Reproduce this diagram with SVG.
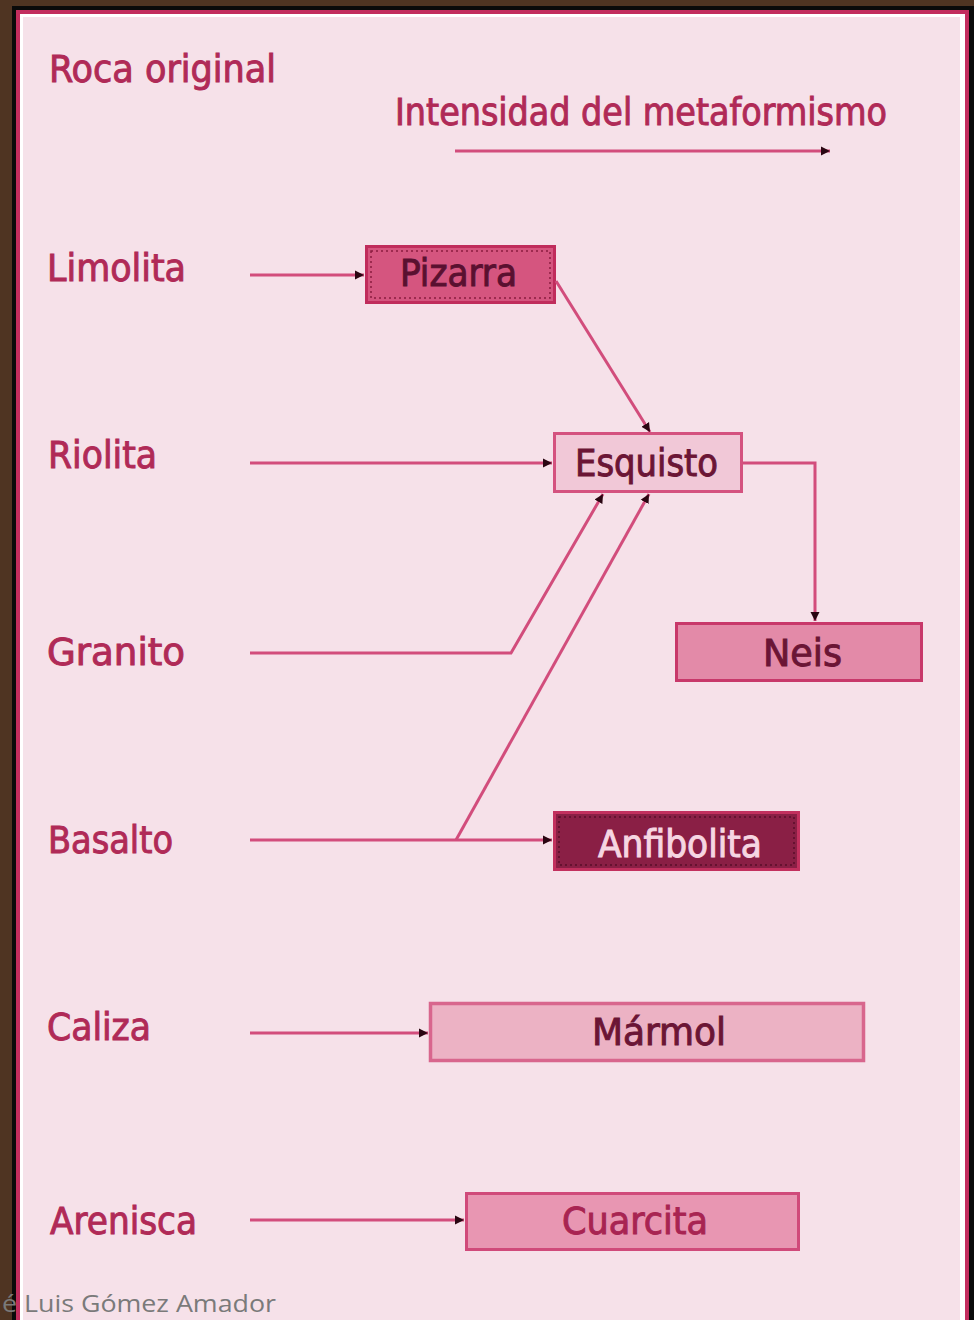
<svg xmlns="http://www.w3.org/2000/svg" width="974" height="1320" viewBox="0 0 974 1320">
  <style>
    .lbl { font-family: "DejaVu Sans Condensed", "DejaVu Sans", "Liberation Sans", sans-serif; font-stretch: condensed; font-size: 37px; fill: #b02a57; stroke: #b02a57; stroke-width: 0.9; }
    .box-text { font-family: "DejaVu Sans Condensed", "DejaVu Sans", "Liberation Sans", sans-serif; font-stretch: condensed; font-size: 37px; stroke-width: 0.9; }
    .conn { fill: none; stroke: #d24d7c; stroke-width: 3; marker-end: url(#tip); }
    .dots { fill: none; stroke-width: 1.5; stroke-dasharray: 2 3; }
  </style>
  <defs>
    <marker id="tip" markerUnits="userSpaceOnUse" markerWidth="10" markerHeight="10" refX="9" refY="5" orient="auto">
      <path d="M0,0.5 L9,5 L0,9.5 z" fill="#2a0612"/>
    </marker>
  </defs>

  <!-- outer frame -->
  <rect x="0" y="0" width="974" height="1320" fill="#4f3422"/>
  <rect x="12" y="6" width="962" height="1320" fill="#0a0a0a"/>
  <rect x="16" y="10" width="953" height="1316" fill="#c22d5e"/>
  <rect x="20" y="14" width="945" height="1312" fill="#ffffff"/>
  <rect x="23" y="17" width="937" height="1309" fill="#f6e1e9"/>

  <!-- headings -->
  <text class="lbl" x="49" y="82" textLength="227" lengthAdjust="spacingAndGlyphs">Roca original</text>
  <text class="lbl" x="395" y="125" font-size="39" textLength="492" lengthAdjust="spacingAndGlyphs">Intensidad del metaformismo</text>

  <!-- source rocks -->
  <g id="limolita"><text class="lbl" x="47" y="281" textLength="139" lengthAdjust="spacingAndGlyphs">Limolita</text></g>
  <g id="riolita"><text class="lbl" x="48" y="468" textLength="109" lengthAdjust="spacingAndGlyphs">Riolita</text></g>
  <g id="granito"><text class="lbl" x="47" y="665" textLength="138" lengthAdjust="spacingAndGlyphs">Granito</text></g>
  <g id="basalto"><text class="lbl" x="48" y="853" textLength="125" lengthAdjust="spacingAndGlyphs">Basalto</text></g>
  <g id="caliza"><text class="lbl" x="47" y="1040" textLength="104" lengthAdjust="spacingAndGlyphs">Caliza</text></g>
  <g id="arenisca"><text class="lbl" x="50" y="1234" textLength="147" lengthAdjust="spacingAndGlyphs">Arenisca</text></g>

  <!-- metamorphic rocks -->
  <g id="pizarra">
    <rect x="366.5" y="246.5" width="188" height="56" fill="#d5557f" stroke="#c02c5c" stroke-width="3"/>
    <rect x="371" y="251" width="179" height="47" class="dots" stroke="#8a1c40"/>
    <text class="box-text" x="400" y="286" fill="#5a1030" stroke="#5a1030" textLength="117" lengthAdjust="spacingAndGlyphs">Pizarra</text>
  </g>
  <g id="esquisto">
    <rect x="554.5" y="433.5" width="187" height="58" fill="#f1c8d7" stroke="#d4527f" stroke-width="3"/>
    <text class="box-text" x="575" y="476" fill="#6b1535" stroke="#6b1535" textLength="143" lengthAdjust="spacingAndGlyphs">Esquisto</text>
  </g>
  <g id="neis">
    <rect x="676.5" y="623.5" width="245" height="57" fill="#e38aa8" stroke="#c8386a" stroke-width="3"/>
    <text class="box-text" x="763" y="666" fill="#6b1535" stroke="#6b1535" textLength="79" lengthAdjust="spacingAndGlyphs">Neis</text>
  </g>
  <g id="anfibolita">
    <rect x="554.5" y="812.5" width="244" height="57" fill="#8a1f45" stroke="#c2305e" stroke-width="3"/>
    <rect x="559" y="817" width="235" height="48" class="dots" stroke="#5a0f2a"/>
    <text class="box-text" x="598" y="857" fill="#f6d6e2" stroke="#f6d6e2" stroke-width="0.6" textLength="164" lengthAdjust="spacingAndGlyphs">Anfibolita</text>
  </g>
  <g id="marmol">
    <rect x="430.5" y="1003.5" width="433" height="57" fill="#ecb2c4" stroke="#d8668d" stroke-width="3.5"/>
    <text class="box-text" x="592" y="1045" fill="#6b1535" stroke="#6b1535" textLength="134" lengthAdjust="spacingAndGlyphs">Mármol</text>
  </g>
  <g id="cuarcita">
    <rect x="466.5" y="1193.5" width="332" height="56" fill="#e896b2" stroke="#d04a7a" stroke-width="3"/>
    <text class="box-text" x="562" y="1234" fill="#a82452" stroke="#a82452" textLength="146" lengthAdjust="spacingAndGlyphs">Cuarcita</text>
  </g>

  <!-- connectors -->
  <g id="connectors">
    <line class="conn" x1="455" y1="151" x2="830" y2="151" stroke="#d86690"/>
    <line class="conn" x1="250" y1="275" x2="364" y2="275"/>
    <line class="conn" x1="556" y1="281" x2="650" y2="432"/>
    <line class="conn" x1="250" y1="463" x2="552" y2="463"/>
    <polyline class="conn" points="743,463 815,463 815,621"/>
    <polyline class="conn" points="250,653 511,653 603,494"/>
    <line class="conn" x1="250" y1="840" x2="552" y2="840"/>
    <line class="conn" x1="456" y1="840" x2="649" y2="494"/>
    <line class="conn" x1="250" y1="1033" x2="428" y2="1033"/>
    <line class="conn" x1="250" y1="1220" x2="464" y2="1220"/>
  </g>

  <!-- credit line -->
  <text x="2" y="1312" font-family="'Open Sans', 'Noto Sans', sans-serif" font-size="24" fill="#7a7a7a" textLength="274" lengthAdjust="spacingAndGlyphs">é Luis Gómez Amador</text>
</svg>
